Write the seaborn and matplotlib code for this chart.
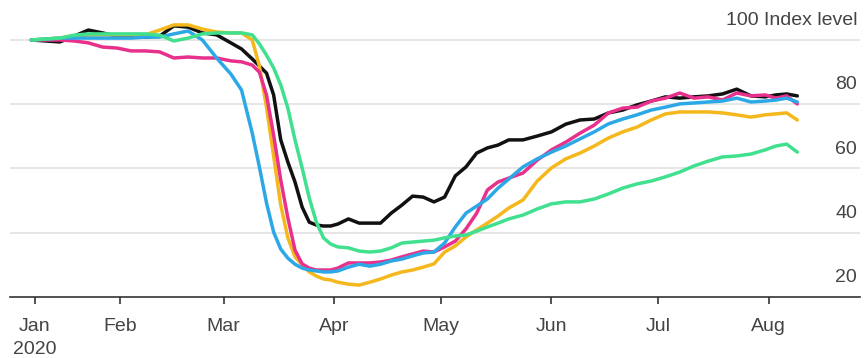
import pandas as pd
import matplotlib
matplotlib.use("Agg")
import matplotlib.pyplot as plt
import matplotlib.dates as mdates
import matplotlib.transforms as mtransforms
import seaborn as sns

# ========== DATA (index level) ==========
day_of_year = [6, 10, 14, 18, 22, 26, 30, 34, 38, 42, 46, 50, 54, 58, 62, 65, 68,
               70, 72, 74, 76, 78, 80, 82, 84, 86, 88, 90, 92, 95, 98, 101, 104,
               107, 110, 113, 116, 119, 122, 125, 128, 131, 134, 137, 140, 144,
               148, 152, 156, 160, 164, 168, 172, 176, 180, 184, 188, 192, 196,
               200, 204, 208, 212, 215, 218, 221]

black = [100, 99.7, 99.4, 101.2, 103.1, 102.2, 101.2, 100.9, 100.9, 101.2, 104.4,
         104, 102.2, 101.6, 99.1, 97.2, 94.1, 91.9, 89.7, 82.9, 68.9, 62, 55.8,
         48, 43.3, 42.4, 42.1, 42.1, 42.7, 44.3, 43, 43, 43, 46.1, 48.6, 51.4,
         51.1, 49.6, 51.1, 57.7, 60.5, 64.8, 66.4, 67.3, 68.9, 68.9, 70.1, 71.4,
         73.8, 75.1, 75.4, 77.3, 78.2, 79.8, 81, 82.3, 81.9, 82.3, 82.6, 83.2,
         84.7, 82.6, 82.3, 82.9, 83.2, 82.6]

yellow = [100, 100.3, 100.6, 101.2, 101.6, 101.6, 101.6, 101.6, 101.6, 103.1,
          104.7, 104.7, 103.4, 102.5, 102.2, 102.2, 100, 91.9, 79.1, 63.9, 48.6,
          38.4, 32.5, 30, 27.8, 26.5, 25.6, 25.3, 24.6, 24, 23.7, 24.6, 25.6,
          26.8, 27.8, 28.4, 29.3, 30.3, 34, 35.9, 38.7, 40.9, 43, 45.2, 47.7,
          50.2, 56.1, 60.2, 63, 64.8, 67, 69.5, 71.4, 72.9, 75.1, 77, 77.6, 77.6,
          77.6, 77.3, 76.7, 76, 76.7, 77, 77.3, 75.1]

pink = [100, 100, 100, 99.7, 99.1, 97.8, 97.5, 96.6, 96.6, 96.3, 94.4, 94.7,
        94.4, 94.4, 93.5, 93.2, 92.2, 90, 82.9, 70.4, 56.4, 44.6, 34.6, 30.3, 29,
        28.4, 28.4, 28.4, 29, 30.6, 30.6, 30.6, 30.9, 31.5, 32.5, 33.4, 34.3, 34,
        35.6, 37.4, 41.2, 46.1, 53.3, 55.8, 57, 58.6, 62.6, 65.8, 68.2, 71, 73.5,
        77.3, 78.8, 79.1, 81, 81.9, 83.5, 81.9, 82.3, 81.3, 83.5, 82.6, 82.9,
        81.9, 82.6, 80.1]

blue = [100, 100.3, 100.6, 100.6, 100.6, 100.6, 100.6, 100.6, 100.9, 100.9,
        101.9, 102.8, 100, 94.4, 89.4, 84.4, 71, 60.5, 49.3, 40.2, 34.9, 32.1,
        30.2, 29, 28.4, 28.1, 27.8, 27.8, 28.1, 29.3, 30.2, 29.6, 30.2, 31.2,
        31.8, 32.8, 33.7, 34, 36.8, 41.8, 46.1, 48.3, 50.5, 53.9, 56.7, 60.5, 63,
        65.1, 67, 69.2, 71.4, 73.9, 75.4, 76.7, 78.2, 79.1, 80.1, 80.4, 80.7, 81,
        81.9, 80.7, 81, 81.3, 81.9, 80.7]

green = [100, 100.3, 100.6, 101.5, 101.9, 101.9, 101.9, 101.9, 101.9, 101.5,
         99.7, 100.6, 101.9, 102.2, 102.2, 102.2, 101.6, 98.8, 95.3, 91.3, 86,
         78.8, 68.9, 60.2, 50.8, 43.3, 38.4, 36.5, 35.6, 35.3, 34.3, 34, 34.3,
         35.3, 36.8, 37.1, 37.4, 37.7, 38.4, 39, 39.3, 40.5, 41.8, 43, 44.3, 45.5,
         47.4, 49, 49.6, 49.6, 50.5, 52.1, 53.9, 55.2, 56.1, 57.4, 58.9, 60.8,
         62.3, 63.6, 63.9, 64.5, 65.8, 67, 67.6, 65.1]

series_order = ["black", "yellow", "pink", "blue", "green"]
colors = {"black": "#111111", "yellow": "#f5b81c", "pink": "#e8318c",
          "blue": "#2da8e6", "green": "#41e08f"}

y_levels = [20, 40, 60, 80]
month_ticks = ["2020-01-08", "2020-02-01", "2020-03-01", "2020-04-01",
               "2020-05-01", "2020-06-01", "2020-07-01", "2020-08-01"]
month_labels = ["Jan\n2020", "Feb", "Mar", "Apr", "May", "Jun", "Jul", "Aug"]

# ========== LONG FORMAT ==========
start = pd.Timestamp("2020-01-01")
dates = start + pd.to_timedelta(day_of_year, unit="D")
values = {"black": black, "yellow": yellow, "pink": pink, "blue": blue, "green": green}
df = pd.concat(
    [pd.DataFrame({"date": dates, "level": values[k], "series": k}) for k in series_order],
    ignore_index=True,
)

# ========== PLOT ==========
sns.set_theme(style="white")
plt.rcParams["font.family"] = ["Liberation Sans", "DejaVu Sans"]

fig = plt.figure(figsize=(8.64, 3.58), dpi=100)
ax = fig.add_axes([10 / 864, 61 / 358, 850 / 864, 297 / 358])

for y in [40, 60, 80, 100]:
    ax.axhline(y, color="#e2e2e2", lw=1.2, zorder=0)

sns.lineplot(data=df, x="date", y="level", hue="series", hue_order=series_order,
             palette=colors, linewidth=2.5, legend=False, ax=ax,
             solid_capstyle="round", solid_joinstyle="round")

ax.set_ylim(20, 112.45)
ax.set_xlim(mdates.date2num(start), mdates.date2num(start + pd.Timedelta(days=238.6)))

for s in ["top", "right", "left"]:
    ax.spines[s].set_visible(False)
ax.spines["bottom"].set_color("#333333")
ax.spines["bottom"].set_linewidth(1.2)

ax.set_xticks(mdates.date2num(pd.to_datetime(month_ticks)))
ax.set_xticklabels(month_labels, ha="center", fontsize=14, color="#444444",
                   linespacing=1.5)
ax.tick_params(axis="x", direction="out", length=5, width=1.2, color="#333333",
               pad=10, bottom=True)
ax.set_yticks([])
ax.set_xlabel("")
ax.set_ylabel("")

# right-hand labels sit just above their gridlines
trans = mtransforms.blended_transform_factory(ax.transAxes, ax.transData)
for v in y_levels:
    ax.annotate(str(v), xy=(1.0, v), xycoords=trans, xytext=(-2, 14),
                textcoords="offset points", ha="right", va="center",
                fontsize=14, color="#444444")
ax.annotate("100 Index level", xy=(1.0, 100), xycoords=trans, xytext=(-2, 14),
            textcoords="offset points", ha="right", va="center",
            fontsize=14, color="#444444")

fig.savefig("out.png", dpi=100)
plt.close(fig)
